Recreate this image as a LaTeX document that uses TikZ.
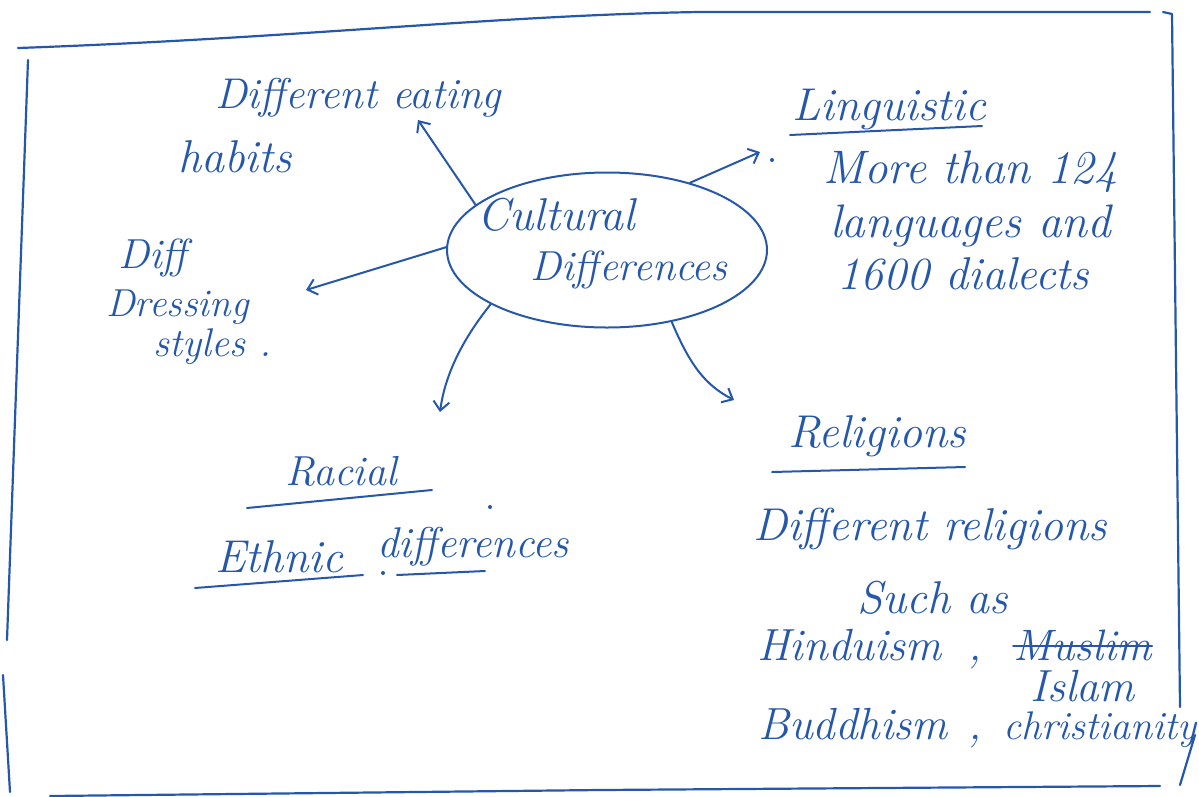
\documentclass[tikz,border=0pt]{standalone}
\usetikzlibrary{shapes.geometric,arrows.meta}
\definecolor{ink}{RGB}{38,88,170}
\newcommand\hsz[1]{\fontsize{#1}{#1}\selectfont\itshape}
\begin{document}
\begin{tikzpicture}[x=1pt,y=-1pt,
  hand/.style={text=ink,font=\hsz{44},anchor=base west,inner sep=0pt},
  frame/.style={draw=ink,line width=2.2pt,line cap=round,line join=round},
  uline/.style={draw=ink,line width=2pt,line cap=round},
  link/.style={draw=ink,line width=2pt,line cap=round,-{Straight Barb[length=9pt,width=16pt,line width=2pt]}},
  dotmark/.style={fill=ink,circle,inner sep=0pt,minimum size=4pt}]
\useasboundingbox (0,0) rectangle (1199,796);
\fill[white] (0,0) rectangle (1199,796);
% frame
\draw[frame] (18,48) .. controls (300,38) and (500,15) .. (700,12) -- (1150,12);
\draw[frame] (1163,12) -- (1172,14) -- (1180,707);
\draw[frame] (28,60) -- (7,640);
\draw[frame] (3,675) -- (10,792);
\draw[frame] (50,796) -- (600,790) -- (1160,786);
\draw[frame] (1195,735) -- (1180,785);
% centre
\node[draw=ink,line width=2pt,ellipse,minimum width=320pt,minimum height=155pt,inner sep=0pt]
  (cd) at (607,250) {};
\node[hand,font=\hsz{46}] (cul1) at (477,230) {Cultural};
\node[hand,font=\hsz{42}] (cul2) at (530,280) {Differences};
% eating
\node[hand,font=\hsz{43}] (eat1) at (215,108) {Different eating};
\node[hand,font=\hsz{46}] (eat2) at (178,172) {habits};
\coordinate (eatTip) at (418,120);
\draw[link] (cd.161) -- (eatTip);
% dressing
\node[hand,font=\hsz{42}] (dr1) at (118,268) {Diff};
\node[hand,font=\hsz{39}] (dr2) at (106,316) {Dressing};
\node[hand,font=\hsz{40}] (dr3) at (153,356) {styles .};
\coordinate (drTip) at (306,290);
\draw[link] (cd.179) -- (drTip);
% linguistic
\node[hand,font=\hsz{46}] (lin) at (792,120) {Linguistic};
\draw[uline] (790,135) -- (982,126);
\node[dotmark] (d2) at (772,160) {};
\node[hand,font=\hsz{47}] (lin1) at (823,183) {More than 124};
\node[hand,font=\hsz{47}] (lin2) at (830,237) {languages and};
\node[hand,font=\hsz{46}] (lin3) at (837,289) {1600 dialects};
\coordinate (linTip) at (760,152);
\draw[link] (cd.39) -- (linTip);
% racial
\node[hand,font=\hsz{42}] (rac) at (285,485) {Racial};
\draw[uline] (247,508) -- (432,490);
\node[dotmark] (d3) at (490,507) {};
\node[hand,font=\hsz{46}] (eth1) at (215,572) {Ethnic};
\draw[uline] (195,588) -- (363,575);
\node[dotmark] (d4) at (383,573) {};
\node[hand,font=\hsz{43}] (eth2) at (377,557) {differences};
\draw[uline] (397,575) -- (485,571);
\coordinate (racTip) at (440,412);
\draw[link] (cd.205) .. controls (462,340) and (445,375) .. (racTip);
% religions
\node[hand,font=\hsz{46}] (rel) at (788,447) {Religions};
\draw[uline] (772,472) -- (965,467);
\node[hand,font=\hsz{46}] (rel1) at (753,540) {Different religions};
\node[hand,font=\hsz{46}] (rel2) at (857,613) {Such as};
\node[hand,font=\hsz{45}] (rel3) at (757,660) {Hinduism};
\node[hand] (c1) at (968,660) {,};
\node[hand,font=\hsz{44}] (mus) at (1013,660) {Muslim};
\draw[uline] (mus.west |- 0,646) -- (mus.east |- 0,646);
\node[hand,font=\hsz{45}] (isl) at (1030,701) {Islam};
\node[hand,font=\hsz{45}] (rel4) at (758,739) {Buddhism};
\node[hand] (c2) at (968,739) {,};
\node[hand,font=\hsz{40}] (rel5) at (1003,739) {christianity};
\coordinate (relTip) at (734,400);
\draw[link] (cd.312) .. controls (690,365) and (705,385) .. (relTip);
\end{tikzpicture}
\end{document}
